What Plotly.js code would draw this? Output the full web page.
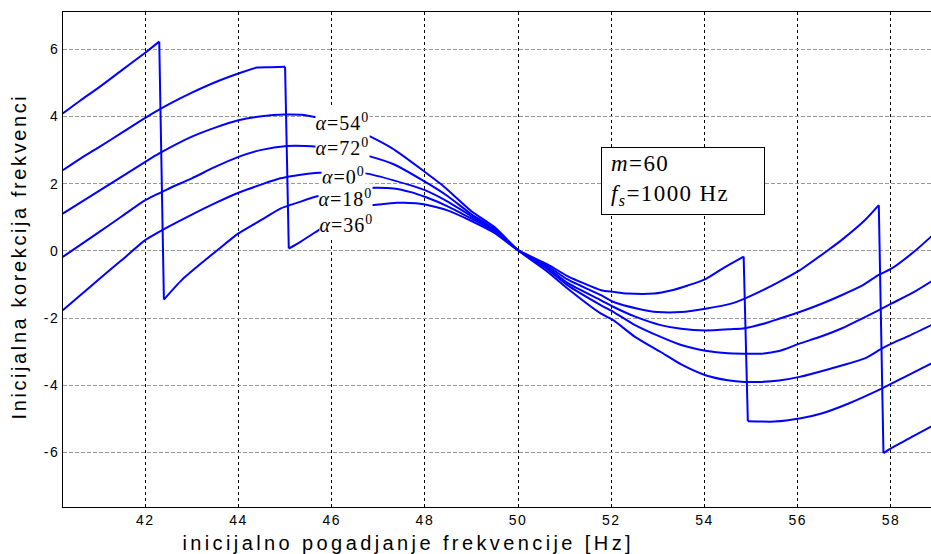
<!DOCTYPE html>
<html>
<head>
<meta charset="utf-8">
<script src="https://cdn.plot.ly/plotly-3.0.1.min.js"></script>
<style>
html,body{margin:0;padding:0;background:#fff;}
#chart{width:931px;height:554px;}
.xtick text,.ytick text{letter-spacing:1.5px;}
text.ls-x{letter-spacing:3.4px;}
text.ls-y{letter-spacing:2.6px;}
text.ls-box{letter-spacing:1.4px;transform:translate(5px,-1px);}
text.ls-alpha{letter-spacing:1px;}
</style>
</head>
<body>
<div id="chart"></div>
<script>
// ---- data ----
const xA18 = [40.23,40.6,41.0,41.5,42.0,42.3,42.4,42.78,43.28,43.6,44.0,44.5,44.9,45.3,45.65,46.0,46.5,46.94,47.33,47.7,48.0,48.5,49.0,49.5,50.0,50.63,51.06,51.78,52.05,52.57,53.0,53.5,54.02,54.57,54.86,55.22,55.6,56.04,56.65,56.94,57.44,57.74,57.84,58.01,58.5,58.9];
const yA18 = [4.09,4.47,4.86,5.38,5.9,6.23,-1.45,-0.87,-0.28,0.08,0.52,0.93,1.26,1.45,1.61,1.73,1.85,1.88,1.86,1.75,1.61,1.32,0.96,0.58,0.02,-0.45,-0.85,-1.32,-1.52,-1.72,-1.82,-1.82,-1.72,-1.57,-1.42,-1.19,-0.92,-0.58,0.02,0.32,0.91,1.36,-6.02,-5.87,-5.5,-5.2];

const xA36 = [40.23,40.6,41.0,41.5,42.0,42.5,43.0,43.5,44.0,44.4,44.7,45.0,45.08,45.33,45.72,46.1,46.5,47.0,47.4,47.8,48.0,48.5,49.0,49.5,50.0,50.63,51.06,51.78,52.05,52.35,52.92,53.28,53.64,54.02,54.43,54.84,54.93,55.5,56.04,56.51,57.08,57.8,58.3,58.87];
const yA36 = [2.40,2.74,3.08,3.52,3.96,4.36,4.71,5.02,5.28,5.46,5.47,5.48,0.07,0.27,0.62,0.96,1.3,1.38,1.43,1.42,1.38,1.2,0.89,0.53,0.02,-0.40,-0.75,-1.17,-1.22,-1.27,-1.27,-1.18,-1.03,-0.84,-0.49,-0.17,-5.07,-5.08,-4.99,-4.84,-4.55,-4.1,-3.75,-3.35];

const xA54 = [40.23,41.0,42.0,42.3,43.0,43.5,44.0,44.5,45.0,45.35,45.69,46.2,46.58,47.3,48.0,48.37,49.0,49.5,50.0,50.63,51.06,51.78,52.05,52.5,53.06,53.5,54.02,54.5,54.86,55.22,55.6,56.04,56.72,57.44,57.8,58.01,58.4,58.88];
const yA54 = [1.11,1.78,2.65,2.90,3.40,3.67,3.89,4.01,4.06,4.05,3.97,3.8,3.57,3.05,2.35,1.96,1.18,0.7,0.02,-0.62,-1.12,-1.87,-2.07,-2.55,-3.01,-3.38,-3.70,-3.85,-3.90,-3.90,-3.86,-3.75,-3.50,-3.2,-2.91,-2.76,-2.52,-2.2];

const xA72 = [40.23,41.0,41.5,42.0,42.5,43.0,43.5,44.0,44.47,45.04,45.7,46.2,46.8,47.33,48.0,48.5,49.0,49.5,50.0,50.63,51.06,51.78,52.05,52.5,53.06,53.5,54.02,54.5,54.86,55.22,55.6,56.04,56.5,56.94,57.4,57.73,58.01,58.5,58.9];
const yA72 = [-0.18,0.55,1.03,1.51,1.85,2.16,2.50,2.80,3.0,3.12,3.1,3.02,2.82,2.58,2.06,1.62,1.09,0.66,0.02,-0.55,-1.02,-1.62,-1.82,-2.2,-2.56,-2.8,-2.97,-3.05,-3.06,-3.06,-2.98,-2.76,-2.55,-2.31,-2.0,-1.77,-1.57,-1.22,-0.88];

const xA0 = [40.23,40.6,41.0,41.49,42.0,42.5,43.0,43.5,44.0,44.5,44.9,45.3,45.65,46.2,46.76,47.33,48.0,48.5,49.0,49.5,50.0,50.63,51.06,51.78,52.05,52.5,53.06,53.5,54.02,54.57,54.86,55.29,55.6,56.04,56.5,56.94,57.4,57.73,58.01,58.5,58.9];
const yA0 = [-1.77,-1.33,-0.85,-0.28,0.32,0.72,1.08,1.42,1.73,1.98,2.16,2.26,2.32,2.35,2.3,2.1,1.81,1.46,1.03,0.62,0.02,-0.50,-0.95,-1.47,-1.67,-1.95,-2.21,-2.32,-2.37,-2.33,-2.3,-2.16,-2.02,-1.82,-1.58,-1.32,-1.02,-0.72,-0.53,-0.02,0.47];

const xTickVals = [42,44,46,48,50,52,54,56,58];
const xTickText = ["42","44","46","48","50","52","54","56","58"];
const yTickVals = [-6,-4,-2,0,2,4,6];
const yTickText = ["-6","-4","-2","0","2","4","6"];

const curveLabels = ["<i>α</i>=54<sup>0</sup>","<i>α</i>=72<sup>0</sup>","<i>α</i>=0<sup>0</sup>","<i>α</i>=18<sup>0</sup>","<i>α</i>=36<sup>0</sup>"];
const curveLabelX = [46.24,46.24,46.26,46.29,46.31];
const curveLabelY = [3.85,3.09,2.22,1.58,0.80];

const infoText = "<i>m</i>=60<br><i>f<sub>s</sub></i>=1000 Hz";
const xTitle = "inicijalno pogadjanje frekvencije [Hz]";
const yTitle = "Inicijalna korekcija frekvenci";

// ---- build ----
const series = [[xA18,yA18],[xA36,yA36],[xA54,yA54],[xA72,yA72],[xA0,yA0]];
const traces = [];
function addTrace(xs, ys, shape) {
  traces.push({x: xs, y: ys, type: 'scatter', mode: 'lines',
    line: {color: '#0000ff', width: 2, shape: shape, smoothing: 0.6},
    showlegend: false, hoverinfo: 'skip'});
}
series.forEach(s => {
  const xs = s[0], ys = s[1];
  let start = 0;
  for (let i = 1; i < xs.length; i++) {
    if (Math.abs(ys[i] - ys[i-1]) > 3) {
      addTrace(xs.slice(start, i), ys.slice(start, i), 'spline');
      addTrace(xs.slice(i-1, i+1), ys.slice(i-1, i+1), 'linear');
      start = i;
    }
  }
  addTrace(xs.slice(start), ys.slice(start), 'spline');
});

const serif = 'Liberation Serif, Times New Roman, serif';
const sans = 'Liberation Sans, Arial, sans-serif';

const annotations = curveLabels.map((t,i) => ({
  x: curveLabelX[i], y: curveLabelY[i], xref: 'x', yref: 'y',
  text: t, showarrow: false, xanchor: 'center', yanchor: 'middle',
  font: {family: serif, size: 20, color: '#000'},
  bgcolor: '#ffffff', borderpad: 2
}));
annotations.push({
  x: 51.77, y: 3.10, xref: 'x', yref: 'y', xanchor: 'left', yanchor: 'top',
  text: infoText, showarrow: false, align: 'left', valign: 'middle',
  font: {family: serif, size: 23, color: '#000'},
  bgcolor: '#ffffff', bordercolor: '#000', borderwidth: 1, borderpad: 4,
  width: 154, height: 58
});
annotations.push({
  x: (408-63)/868, y: (507-543)/495, xref: 'paper', yref: 'paper',
  xanchor: 'center', yanchor: 'middle', text: xTitle, showarrow: false,
  font: {family: sans, size: 20, color: '#000'}
});
annotations.push({
  x: (18-63)/868, y: (507-256.5)/495, xref: 'paper', yref: 'paper',
  xanchor: 'center', yanchor: 'middle', text: yTitle, showarrow: false, textangle: -90,
  font: {family: sans, size: 20, color: '#000'}
});

const layout = {
  width: 931, height: 554,
  margin: {l: 63, r: 0, t: 12, b: 47},
  paper_bgcolor: '#fff', plot_bgcolor: '#fff',
  xaxis: {
    range: [40.235, 58.86], tickmode: 'array', tickvals: xTickVals, ticktext: xTickText,
    showgrid: true, gridcolor: '#000', gridwidth: 1, griddash: '3px,3px',
    showline: true, linecolor: '#000', linewidth: 1, mirror: true,
    zeroline: false, ticks: '', tickfont: {family: sans, size: 14, color: '#000'}
  },
  yaxis: {
    range: [-7.624, 7.111], tickmode: 'array', tickvals: yTickVals, ticktext: yTickText,
    showgrid: true, gridcolor: '#999', gridwidth: 1, griddash: '4px,2px',
    showline: true, linecolor: '#000', linewidth: 1, mirror: false,
    zeroline: false, ticks: '', tickfont: {family: sans, size: 14, color: '#000'}
  },
  annotations: annotations
};

Plotly.newPlot('chart', traces, layout, {displayModeBar: false, staticPlot: true}).then(() => {
  document.querySelectorAll('.annotation-text').forEach(el => {
    const t = el.textContent;
    if (t.indexOf('inicijalno') === 0) el.classList.add('ls-x');
    else if (t.indexOf('Inicijalna') === 0) el.classList.add('ls-y');
    else if (t.indexOf('m=60') === 0) el.classList.add('ls-box');
    else if (t.indexOf('α') === 0) el.classList.add('ls-alpha');
  });
});
</script>
</body>
</html>
